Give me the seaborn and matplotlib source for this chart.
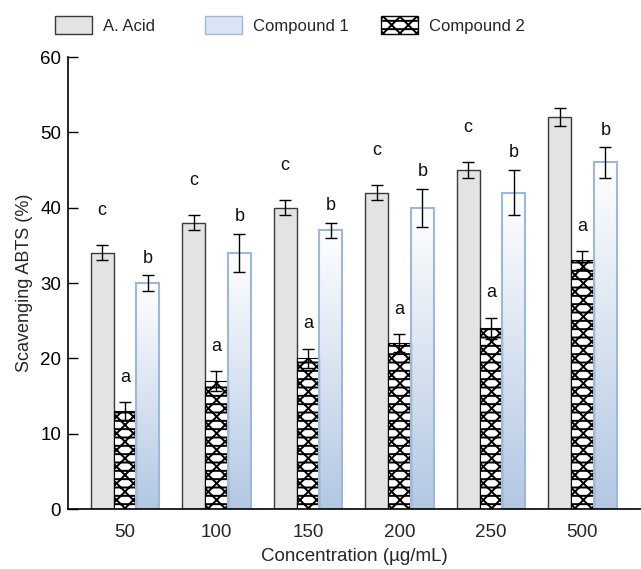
import numpy as np
import pandas as pd
import matplotlib
matplotlib.use("Agg")
import matplotlib.pyplot as plt
from matplotlib.colors import LinearSegmentedColormap
from matplotlib.patches import Patch
import seaborn as sns

# ==========================
# DATA
# ==========================
concentrations = ["50", "100", "150", "200", "250", "500"]

acid_vals = [34, 38, 40, 42, 45, 52]
acid_err = [1.0, 1.0, 1.0, 1.0, 1.0, 1.2]
acid_letters = ["c", "c", "c", "c", "c", ""]

comp2_vals = [13, 17, 20, 22, 24, 33]
comp2_err = [1.2, 1.3, 1.3, 1.2, 1.4, 1.2]
comp2_letters = ["a", "a", "a", "a", "a", "a"]

comp1_vals = [30, 34, 37, 40, 42, 46]
comp1_err = [1.0, 2.5, 1.0, 2.5, 3.0, 2.0]
comp1_letters = ["b", "b", "b", "b", "b", "b"]

series = ["A. Acid", "Compound 2", "Compound 1"]

df = pd.DataFrame({
    "Concentration": concentrations * 3,
    "Series": np.repeat(series, len(concentrations)),
    "Value": acid_vals + comp2_vals + comp1_vals,
})

# ==========================
# STYLE
# ==========================
sns.set_theme(style="ticks")
plt.rcParams["font.family"] = ["Liberation Sans", "DejaVu Sans"]
plt.rcParams["hatch.linewidth"] = 1.4
plt.rcParams["hatch.color"] = "black"

fig = plt.figure(figsize=(6.41, 5.69), dpi=100)
ax = fig.add_axes([0.106, 0.1054, 0.894, 0.7944])

sns.barplot(data=df, x="Concentration", y="Value", hue="Series",
            hue_order=series, order=concentrations, width=0.75,
            errorbar=None, legend=False, ax=ax)

grey = "#e3e3e3"
blue_edge = "#9db8db"
blue_cmap = LinearSegmentedColormap.from_list("bl", ["#ffffff", "#b3c8e3"])
hatch2 = "xx--"

n = len(concentrations)
bars = ax.patches[:3 * n]
acid_bars = bars[:n]
comp2_bars = bars[n:2 * n]
comp1_bars = bars[2 * n:]

for b in acid_bars:
    b.set_facecolor(grey)
    b.set_edgecolor("#3a3a3a")
    b.set_linewidth(1.0)

for b in comp2_bars:
    b.set_facecolor("white")
    b.set_edgecolor("black")
    b.set_hatch(hatch2)
    b.set_linewidth(0.8)

grad = np.linspace(0, 1, 256).reshape(-1, 1)
for b in comp1_bars:
    b.set_facecolor("none")
    b.set_edgecolor(blue_edge)
    b.set_linewidth(1.5)
    x0, w, h = b.get_x(), b.get_width(), b.get_height()
    im = ax.imshow(grad, extent=[x0, x0 + w, 0, h], aspect="auto",
                   cmap=blue_cmap, origin="upper", zorder=b.get_zorder() - 0.1)
    im.set_clip_path(b)

# error bars and letters
for group, vals, errs, letters, off in [
    (acid_bars, acid_vals, acid_err, acid_letters, 4.6),
    (comp2_bars, comp2_vals, comp2_err, comp2_letters, 3.3),
    (comp1_bars, comp1_vals, comp1_err, comp1_letters, 2.3),
]:
    xs = [b.get_x() + b.get_width() / 2 for b in group]
    ax.errorbar(xs, vals, yerr=errs, fmt="none", ecolor="black",
                elinewidth=1.0, capsize=4.5, capthick=1.0, zorder=5)
    for x, v, e, t in zip(xs, vals, errs, letters):
        ax.text(x, v + e + off, t, ha="center", va="center", fontsize=13,
                color="#111111")

ax.set_xlim(-0.623, 5.64)
ax.set_ylim(0, 60)
ax.set_yticks(range(0, 61, 10))
ax.tick_params(axis="y", direction="in", length=7, width=1, labelsize=13.5,
               colors="black", pad=5)
ax.tick_params(axis="x", length=0, labelsize=13.5, pad=11)
ax.set_xlabel("Concentration (µg/mL)", fontsize=13.5, labelpad=5)
ax.set_ylabel("Scavenging ABTS (%)", fontsize=13, labelpad=5)
sns.despine(ax=ax, top=True, right=True)
ax.spines["left"].set_linewidth(1.2)
ax.spines["bottom"].set_linewidth(1.2)
ax.spines["left"].set_color("black")
ax.spines["bottom"].set_color("black")

# legend entries laid out across the top
handles = [
    Patch(facecolor=grey, edgecolor="#3a3a3a", label="A. Acid"),
    Patch(facecolor="#dbe5f2", edgecolor=blue_edge, label="Compound 1"),
    Patch(facecolor="white", edgecolor="black", hatch=hatch2, label="Compound 2"),
]
for h, x_left in zip(handles, [0.0858, 0.3198, 0.5944]):
    fig.legend(handles=[h], loc="center left", bbox_to_anchor=(x_left, 0.956),
               frameon=False, fontsize=12, handlelength=2.2,
               handleheight=1.25, handletextpad=0.66,
               borderpad=0, borderaxespad=0)

fig.savefig("out.png", dpi=100)
